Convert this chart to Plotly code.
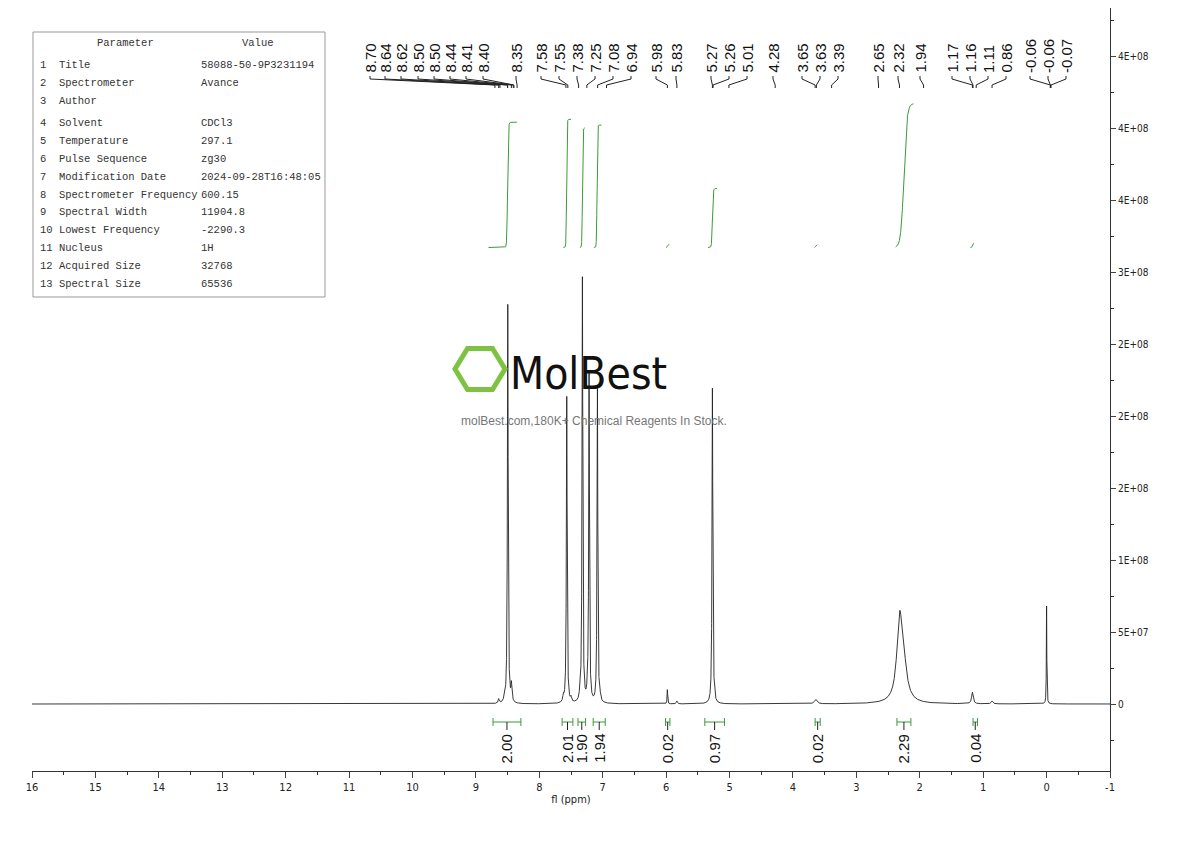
import numpy as np
import plotly.graph_objects as go

# ---------------- data ----------------
peak_ppm = [8.497, 8.44, 8.55, 8.64, 7.567, 7.62, 7.50, 7.32, 7.36, 7.215, 7.24, 7.083, 7.04, 5.98, 5.83, 5.27, 5.24, 3.64, 2.32, 2.26, 1.17, 0.86, 0.0]
peak_h   = [2.77e8, 1.2e7, 4e6, 3e6, 2.13e8, 4e6, 3e6, 2.95e8, 4e6, 2.27e8, 6e6, 2.18e8, 3e6, 1.0e7, 2e6, 2.19e8, 3e6, 3e6, 5.2e7, 2.5e7, 8e6, 2e6, 6.8e7]
peak_w   = [0.014, 0.02, 0.02, 0.02, 0.014, 0.02, 0.02, 0.014, 0.02, 0.014, 0.02, 0.014, 0.02, 0.01, 0.02, 0.014, 0.02, 0.05, 0.10, 0.12, 0.03, 0.03, 0.008]

int_values = ["2.00", "2.01", "1.90", "1.94", "0.02", "0.97", "0.02", "2.29", "0.04"]
int_lo = [8.29, 7.47, 7.27, 6.96, 5.94, 5.08, 3.57, 2.14, 1.09]
int_hi = [8.73, 7.64, 7.39, 7.15, 6.01, 5.39, 3.65, 2.36, 1.16]
int_center = [8.50, 7.57, 7.32, 7.09, 5.98, 5.27, 3.64, 2.25, 1.17]
int_halfw  = [0.03, 0.02, 0.02, 0.02, 0.02, 0.03, 0.02, 0.12, 0.02]
int_top    = [4.04e8, 4.06e8, 4.00e8, 4.02e8, 3.19e8, 3.58e8, 3.19e8, 4.17e8, 3.20e8]
int_span   = [(8.35, 8.80), (7.50, 7.62), (7.28, 7.36), (7.02, 7.14), (5.95, 6.00), (5.20, 5.34), (3.62, 3.66), (2.10, 2.38), (1.15, 1.20)]
int_base = 3.17e8

label_text = ["8.70","8.64","8.62","8.50","8.50","8.44","8.41","8.40","8.35",
              "7.58","7.55","7.38","7.25","7.08","6.94","5.98","5.83",
              "5.27","5.26","5.01","4.28","3.65","3.63","3.39","2.65","2.32","1.94",
              "1.17","1.16","1.11","0.86","-0.06","-0.06","-0.07"]
label_px = [370,385,401,418,434,450,466,483,516,541,559,577,595,613,631,656,676,
            711,729,747,773,802,820,838,878,898,920,952,970,988,1006,1030,1048,1066]

table_rows = [("1","Title","58088-50-9P3231194"),("2","Spectrometer","Avance"),("3","Author",""),
              ("4","Solvent","CDCl3"),("5","Temperature","297.1"),("6","Pulse Sequence","zg30"),
              ("7","Modification Date","2024-09-28T16:48:05"),("8","Spectrometer Frequency","600.15"),
              ("9","Spectral Width","11904.8"),("10","Lowest Frequency","-2290.3"),("11","Nucleus","1H"),
              ("12","Acquired Size","32768"),("13","Spectral Size","65536")]
table_py = [65,83,101,123,141,159,177,195,212,230,248,266,284]

y_tickvals = [0, 5e7, 1e8, 1.5e8, 2e8, 2.5e8, 3e8, 3.5e8, 4e8, 4.5e8]
y_ticktext = ["0","5E+07","1E+08","2E+08","2E+08","2E+08","3E+08","4E+08","4E+08","4E+08"]

# ---------------- geometry helpers (reference pixel coords; page has 8px body offset) ----------------
OFF = 8
W, H = 1182, 833
L, R, T, B = 32, 1110, 8, 771
X0, X1 = 16.0, -1.0
def px2ppm(px): return X0 + (px - L) / (R - L) * (X1 - X0)
def py2y(py): return (704 - py) / 72 * 5e7

cond = "DejaVu Sans Condensed, Liberation Sans Narrow, sans-serif"
mono = "Liberation Mono, DejaVu Sans Mono, monospace"

x = np.linspace(16, -1, 34001)
y = np.zeros_like(x)
for c, h, w in zip(peak_ppm, peak_h, peak_w):
    g = w / 2
    y += h * g**2 / ((x - c)**2 + g**2)

fig = go.Figure()
fig.add_trace(go.Scatter(x=x, y=y, mode="lines", line=dict(color="#222", width=0.9), hoverinfo="skip"))

for c, hw, top, (a, b) in zip(int_center, int_halfw, int_top, int_span):
    xi = np.linspace(b, a, 200)
    yi = int_base + (top - int_base) * 0.5 * (1 + np.tanh((c - xi) / hw * 2.5))
    fig.add_trace(go.Scatter(x=xi, y=yi, mode="lines", line=dict(color="#3a9a3a", width=1), hoverinfo="skip"))

shapes = []
ann = []
yb = py2y(722)
for v, lo, hi in zip(int_values, int_lo, int_hi):
    mid = (lo + hi) / 2
    g = "#3a9a3a"
    shapes += [dict(type="line", x0=lo, x1=hi, y0=yb, y1=yb, line=dict(color=g, width=1)),
               dict(type="line", x0=lo, x1=lo, y0=py2y(718), y1=py2y(726), line=dict(color=g, width=1)),
               dict(type="line", x0=hi, x1=hi, y0=py2y(718), y1=py2y(726), line=dict(color=g, width=1)),
               dict(type="line", x0=mid, x1=mid, y0=yb, y1=py2y(730), line=dict(color="#222", width=1))]
    ann.append(dict(x=mid, y=py2y(732), text=v, textangle=-90, showarrow=False,
                    yanchor="top", font=dict(family="Liberation Sans, Arial", size=15, color="#111")))

for t, lp in zip(label_text, label_px):
    pk = float(t)
    lx = px2ppm(lp)
    shapes += [dict(type="line", x0=lx, x1=lx, y0=py2y(76), y1=py2y(79), line=dict(color="#222", width=1)),
               dict(type="line", x0=lx, x1=pk, y0=py2y(79), y1=py2y(85), line=dict(color="#222", width=1)),
               dict(type="line", x0=pk, x1=pk, y0=py2y(85), y1=py2y(88), line=dict(color="#222", width=1))]
    ann.append(dict(x=lx, y=py2y(75), text=t, textangle=-90, showarrow=False,
                    yanchor="bottom", font=dict(family="Liberation Sans, Arial", size=15, color="#111")))

shapes.append(dict(type="rect", x0=px2ppm(33), x1=px2ppm(325), y0=py2y(297), y1=py2y(32),
                   line=dict(color="#999", width=1), fillcolor="white", layer="above"))
tf = dict(family=mono, size=10.5, color="#333")
ann.append(dict(x=px2ppm(125), y=py2y(43), text="Parameter", showarrow=False, font=tf))
ann.append(dict(x=px2ppm(258), y=py2y(43), text="Value", showarrow=False, font=tf))
for (n, p, v), py in zip(table_rows, table_py):
    lbl = (n + "  " + p) if len(n) == 1 else (n + " " + p)
    ann.append(dict(x=px2ppm(38), y=py2y(py), text=lbl.replace(" ", "&nbsp;"),
                    showarrow=False, xanchor="left", font=tf))
    if v:
        ann.append(dict(x=px2ppm(199), y=py2y(py), text=v, showarrow=False, xanchor="left", font=tf))

cx, cy, rr = 480, 369, 25
ang = np.deg2rad(np.arange(0, 361, 60))
path = "M " + " L ".join(f"{px2ppm(cx + rr*np.cos(a)):.5f},{py2y(cy + rr*np.sin(a)*0.95):.1f}" for a in ang) + " Z"
shapes.append(dict(type="path", path=path, line=dict(color="#7dc242", width=5)))
ann.append(dict(x=px2ppm(508), y=py2y(373), text="MolBest", showarrow=False, xanchor="left",
                font=dict(family=cond, size=44, color="#111")))
ann.append(dict(x=px2ppm(594), y=py2y(421), text="molBest.com,180K+ Chemical Reagents In Stock.",
                showarrow=False, font=dict(family="Liberation Sans, Arial", size=12, color="#777")))

fig.update_layout(
    width=W, height=H,
    margin=dict(l=L - OFF, r=W - (R - OFF), t=T - OFF, b=H - (B - OFF), autoexpand=False),
    paper_bgcolor="white", plot_bgcolor="white", showlegend=False,
    shapes=shapes, annotations=ann,
    xaxis=dict(range=[X0, X1], tickvals=list(range(16, -2, -1)), ticktext=[str(v) for v in range(16, -2, -1)],
               showgrid=False, zeroline=False,
               ticks="outside", ticklen=6, showline=True, linecolor="#333", mirror=False,
               minor=dict(dtick=0.5, ticks="outside", ticklen=3, tickcolor="#333"),
               tickfont=dict(family=cond, size=11, color="#222"),
               title=dict(text="fl (ppm)", font=dict(family=cond, size=11, color="#222"), standoff=2)),
    yaxis=dict(range=[py2y(B), py2y(T)], side="right", tickvals=y_tickvals, ticktext=y_ticktext,
               showgrid=False, zeroline=False, ticks="outside", ticklen=5, showline=True, linecolor="#333",
               minor=dict(dtick=2.5e7, ticks="outside", ticklen=3, tickcolor="#333"),
               tickfont=dict(family=cond, size=10, color="#222")),
)
fig.write_html("out.html")
